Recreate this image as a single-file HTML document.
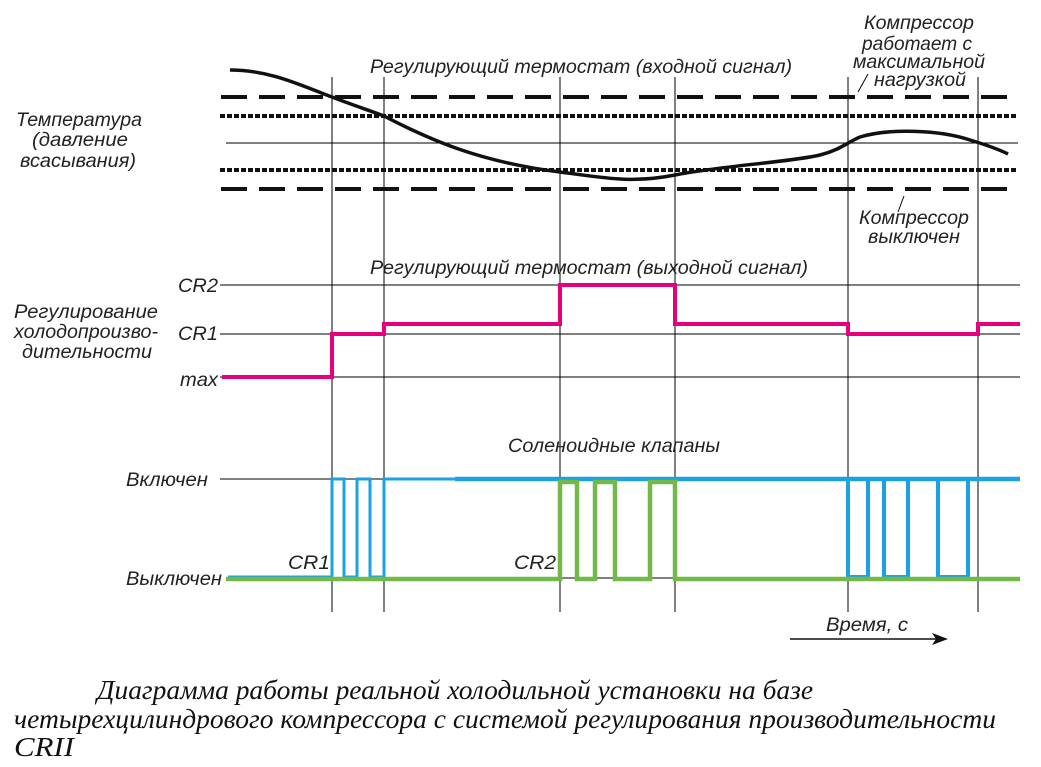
<!DOCTYPE html>
<html><head><meta charset="utf-8"><style>
html,body{margin:0;padding:0;background:#fff;}
svg{display:block;}
.t{font-family:"Liberation Sans","DejaVu Sans",sans-serif;font-style:italic;font-size:19px;fill:#222;}
.c{font-family:"Liberation Serif","DejaVu Serif",serif;font-style:italic;font-size:27px;fill:#111;}
</style></head><body>
<svg width="1041" height="767" viewBox="0 0 1041 767" xmlns="http://www.w3.org/2000/svg">
<g stroke="#000" stroke-width="1" fill="none">
<line x1="332" y1="77" x2="332" y2="612"/>
<line x1="384" y1="77" x2="384" y2="612"/>
<line x1="560" y1="77" x2="560" y2="612"/>
<line x1="675" y1="77" x2="675" y2="612"/>
<line x1="848" y1="77" x2="848" y2="612"/>
<line x1="978" y1="77" x2="978" y2="612"/>
<line x1="226" y1="143" x2="1018" y2="143"/>
<line x1="220" y1="285" x2="1020" y2="285"/>
<line x1="220" y1="334" x2="1020" y2="334"/>
<line x1="220" y1="377" x2="1020" y2="377"/>
<line x1="220" y1="479" x2="1020" y2="479"/>
<line x1="228" y1="578" x2="1020" y2="578"/>
<line x1="858" y1="92" x2="868" y2="74"/>
<line x1="904" y1="196" x2="898" y2="212"/>
</g>
<line x1="221" y1="97" x2="1012" y2="97" stroke="#111" stroke-width="4" stroke-dasharray="26,12"/>
<line x1="221" y1="189" x2="1012" y2="189" stroke="#111" stroke-width="4" stroke-dasharray="26,12"/>
<line x1="220" y1="116" x2="1018" y2="116" stroke="#111" stroke-width="4" stroke-dasharray="5,2"/>
<line x1="220" y1="170" x2="1018" y2="170" stroke="#111" stroke-width="4" stroke-dasharray="5,2"/>
<path d="M230,70 C270,70 300,85 332,97 C350,104 368,110 384,116 C430,140 480,162 560,172 C600,177 630,184 675,175 C720,166 790,162 820,155 C840,150 848,142 860,137 C890,128 940,130 970,140 C990,146 1000,150 1008,154" fill="none" stroke="#111" stroke-width="3.5"/>
<polyline points="222,377 332,377 332,334 384,334 384,324 560,324 560,285 675,285 675,324 848,324 848,334 978,334 978,324 1020,324" fill="none" stroke="#e6007e" stroke-width="4"/>
<polyline points="228,577 332,577 332,479 344,479 344,577 357,577 357,479 370,479 370,577 384,577 384,479 1020,479" fill="none" stroke="#1aa3e0" stroke-width="3"/>
<polyline points="848,479 848,577 868,577 868,479 884,479 884,577 908,577 908,479 938,479 938,577 968,577 968,479" fill="none" stroke="#1aa3e0" stroke-width="4"/>
<line x1="455" y1="479" x2="1020" y2="479" stroke="#1aa3e0" stroke-width="4.5"/>
<polyline points="226,579 560,579 560,482 577,482 577,579 595,579 595,482 615,482 615,579 650,579 650,482 675,482 675,579 1020,579" fill="none" stroke="#72b94a" stroke-width="4.5"/>
<line x1="790" y1="639" x2="945" y2="639" stroke="#111" stroke-width="1.5"/>
<path d="M948,639 L932,633 L936,639 L932,645 Z" fill="#111"/>
<text class="t" x="370" y="73" textLength="422" lengthAdjust="spacingAndGlyphs">Регулирующий термостат (входной сигнал)</text>
<text class="t" x="864" y="29" textLength="110" lengthAdjust="spacingAndGlyphs">Компрессор</text>
<text class="t" x="862" y="50" textLength="110" lengthAdjust="spacingAndGlyphs">работает с</text>
<text class="t" x="853" y="68" textLength="132" lengthAdjust="spacingAndGlyphs">максимальной</text>
<text class="t" x="874" y="86" textLength="92" lengthAdjust="spacingAndGlyphs">нагрузкой</text>
<text class="t" x="859" y="224" textLength="110" lengthAdjust="spacingAndGlyphs">Компрессор</text>
<text class="t" x="868" y="243" textLength="92" lengthAdjust="spacingAndGlyphs">выключен</text>
<text class="t" x="16" y="126" textLength="126" lengthAdjust="spacingAndGlyphs">Температура</text>
<text class="t" x="32" y="146" textLength="96" lengthAdjust="spacingAndGlyphs">(давление</text>
<text class="t" x="20" y="167" textLength="116" lengthAdjust="spacingAndGlyphs">всасывания)</text>
<text class="t" x="370" y="274" textLength="438" lengthAdjust="spacingAndGlyphs">Регулирующий термостат (выходной сигнал)</text>
<text class="t" x="178" y="292" textLength="40" lengthAdjust="spacingAndGlyphs">CR2</text>
<text class="t" x="178" y="340" textLength="40" lengthAdjust="spacingAndGlyphs">CR1</text>
<text class="t" x="180" y="386" textLength="38" lengthAdjust="spacingAndGlyphs">max</text>
<text class="t" x="14" y="318" textLength="144" lengthAdjust="spacingAndGlyphs">Регулирование</text>
<text class="t" x="14" y="338" textLength="144" lengthAdjust="spacingAndGlyphs">холодопроизво-</text>
<text class="t" x="22" y="358" textLength="130" lengthAdjust="spacingAndGlyphs">дительности</text>
<text class="t" x="508" y="452" textLength="212" lengthAdjust="spacingAndGlyphs">Соленоидные клапаны</text>
<text class="t" x="126" y="486" textLength="82" lengthAdjust="spacingAndGlyphs">Включен</text>
<text class="t" x="126" y="585" textLength="96" lengthAdjust="spacingAndGlyphs">Выключен</text>
<text class="t" x="288" y="569" textLength="42" lengthAdjust="spacingAndGlyphs">CR1</text>
<text class="t" x="514" y="569" textLength="42" lengthAdjust="spacingAndGlyphs">CR2</text>
<text class="t" x="826" y="631" textLength="82" lengthAdjust="spacingAndGlyphs">Время, с</text>
<text class="c" x="97" y="699" textLength="716" lengthAdjust="spacingAndGlyphs">Диаграмма работы реальной холодильной установки на базе</text>
<text class="c" x="14" y="728" textLength="982" lengthAdjust="spacingAndGlyphs">четырехцилиндрового компрессора с системой регулирования производительности</text>
<text class="c" x="14" y="756" textLength="60" lengthAdjust="spacingAndGlyphs">CRII</text>
</svg>
</body></html>
